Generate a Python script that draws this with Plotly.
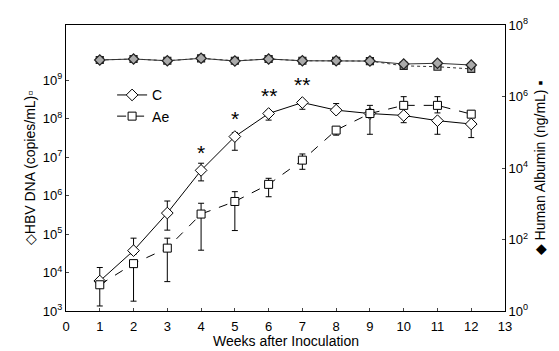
import math
import plotly.graph_objects as go

weeks = [1, 2, 3, 4, 5, 6, 7, 8, 9, 10, 11, 12]

# HBV DNA (copies/mL) - left axis
dna_C = [6e3, 3.7e4, 3.5e5, 4.5e6, 3.4e7, 1.35e8, 2.6e8, 1.65e8, 1.35e8, 1.2e8, 8.8e7, 7.2e7]
dna_C_hi = [1.35e4, 7.8e4, 7.2e5, 6.9e6, 4.3e7, 1.6e8, 3.0e8, 2.45e8, 1.6e8, 1.4e8, 1.0e8, 8.0e7]
dna_C_lo = [5.0e3, 3.0e4, 1.26e5, 2.4e6, 1.5e7, 9.1e7, 1.74e8, 1.4e8, 3.9e7, 7.8e7, 3.9e7, 3.2e7]

dna_Ae = [4.8e3, 1.7e4, 4.3e4, 3.3e5, 7.0e5, 1.95e6, 8.3e6, 5.0e7, 1.35e8, 2.2e8, 2.2e8, 1.3e8]
dna_Ae_hi = [5.5e3, 2.0e4, 7.8e4, 6.3e5, 1.26e6, 2.8e6, 1.2e7, 6.0e7, 2.2e8, 3.7e8, 3.7e8, 1.6e8]
dna_Ae_lo = [1.35e3, 1.8e3, 5.8e3, 3.8e4, 1.23e5, 9.3e5, 4.8e6, 3.7e7, 1.2e8, 2.0e8, 1.4e8, 1.15e8]

# Human albumin (ng/mL) - right axis
alb_C = [1.05e7, 1.12e7, 1.0e7, 1.17e7, 9.8e6, 1.12e7, 1.0e7, 1.0e7, 9.8e6, 8.1e6, 8.5e6, 7.6e6]
alb_Ae = [1.05e7, 1.12e7, 1.0e7, 1.17e7, 1.0e7, 1.12e7, 1.0e7, 1.0e7, 9.8e6, 7.2e6, 6.8e6, 5.9e6]

# significance marks above the C series
sig_weeks = [4, 5, 6, 7]
sig_text = ["*", "*", "**", "**"]

x_title = "Weeks after Inoculation"

x_ticks = list(range(0, 14))
left_tickvals = [1e3, 1e4, 1e5, 1e6, 1e7, 1e8, 1e9]
left_ticktext = ["10<sup>3</sup>", "10<sup>4</sup>", "10<sup>5</sup>", "10<sup>6</sup>",
                 "10<sup>7</sup>", "10<sup>8</sup>", "10<sup>9</sup>"]
right_tickvals = [1e0, 1e2, 1e4, 1e6, 1e8]
right_ticktext = ["10<sup>0</sup>", "10<sup>2</sup>", "10<sup>4</sup>", "10<sup>6</sup>", "10<sup>8</sup>"]

FONT = "Liberation Sans, Arial, sans-serif"

def err(vals, hi, lo):
    return dict(type="data", symmetric=False,
                array=[h - v for v, h in zip(vals, hi)],
                arrayminus=[v - l for v, l in zip(vals, lo)],
                color="black", thickness=1, width=3)

fig = go.Figure()

fig.add_trace(go.Scatter(
    x=weeks, y=alb_Ae, yaxis="y2", mode="lines+markers", showlegend=False,
    line=dict(color="#333", width=1, dash="dot"),
    marker=dict(symbol="square", size=7, color="#aaa", line=dict(color="#222", width=1.2))))
fig.add_trace(go.Scatter(
    x=weeks, y=alb_C, yaxis="y2", mode="lines+markers", showlegend=False,
    line=dict(color="#333", width=1),
    marker=dict(symbol="diamond", size=8, color="#aaa", line=dict(color="#222", width=1.2))))

fig.add_trace(go.Scatter(
    x=weeks, y=dna_C, name="C", mode="lines+markers",
    line=dict(color="black", width=1),
    marker=dict(symbol="diamond", size=9, color="white", line=dict(color="black", width=1)),
    error_y=err(dna_C, dna_C_hi, dna_C_lo)))
fig.add_trace(go.Scatter(
    x=weeks, y=dna_Ae, name="Ae", mode="lines+markers",
    line=dict(color="black", width=1, dash="dash"),
    marker=dict(symbol="square", size=8, color="white", line=dict(color="black", width=1)),
    error_y=err(dna_Ae, dna_Ae_hi, dna_Ae_lo)))

annotations = []
for w, t in zip(sig_weeks, sig_text):
    v = dna_C[weeks.index(w)]
    annotations.append(dict(x=w, y=math.log10(v), xref="x", yref="y", text=t,
                            showarrow=False, yshift=18, font=dict(size=21, family=FONT, color="black")))
annotations.append(dict(x=0.5, y=-0.105, xref="paper", yref="paper", text=x_title,
                        showarrow=False, xanchor="center", yanchor="middle",
                        font=dict(size=14, family=FONT, color="black")))

fig.update_layout(
    width=559, height=351,
    margin=dict(l=66, r=54, t=25, b=40),
    paper_bgcolor="white", plot_bgcolor="white",
    font=dict(family=FONT, color="black", size=13),
    showlegend=True,
    legend=dict(x=0.105, y=0.81, xanchor="left", yanchor="top", bgcolor="rgba(0,0,0,0)",
                font=dict(size=14, family=FONT), itemwidth=30),
    xaxis=dict(range=[0, 13], tickvals=x_ticks, ticks="inside", ticklen=3,
               showline=True, linecolor="black", linewidth=1, mirror=True, showgrid=False,
               zeroline=False, tickfont=dict(size=13), ticklabelstandoff=3, automargin=False),
    yaxis=dict(type="log", range=[3, 10.43], tickvals=left_tickvals, ticktext=left_ticktext,
               ticks="inside", ticklen=3, showline=True, linecolor="black", linewidth=1,
               showgrid=False, zeroline=False, tickfont=dict(size=13), automargin=False,
               title=dict(text="◇HBV DNA (copies/mL)▫", font=dict(size=14), standoff=3)),
    yaxis2=dict(type="log", range=[0, 8], overlaying="y", side="right",
                tickvals=right_tickvals, ticktext=right_ticktext, ticks="inside", ticklen=3,
                showline=True, linecolor="black", linewidth=1, showgrid=False, zeroline=False,
                tickfont=dict(size=13), automargin=False,
                title=dict(text="◆ Human Albumin (ng/mL) ▪", font=dict(size=14), standoff=8)),
    annotations=annotations,
)

fig.write_html("out.html")
